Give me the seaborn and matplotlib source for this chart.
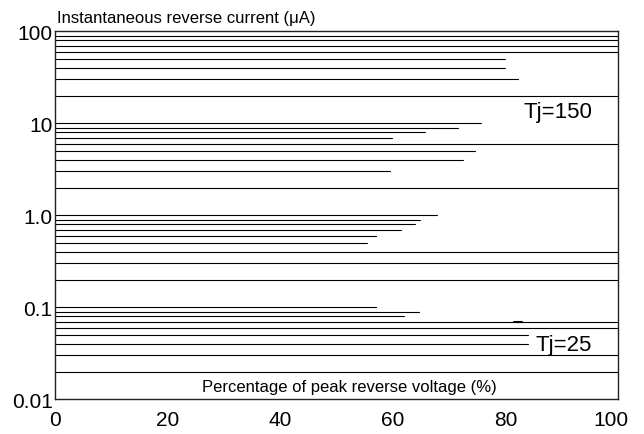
import pandas as pd
import matplotlib
matplotlib.use("Agg")
import matplotlib.pyplot as plt
import matplotlib.transforms as mtransforms
import seaborn as sns

# Horizontal reference lines (current level in uA) and how far each one reaches (% of peak voltage)
current_levels = [90, 80, 70, 60, 50, 40, 30, 20,
                  10, 9, 8, 7, 6, 5, 4, 3, 2,
                  1.0, 0.9, 0.8, 0.7, 0.6, 0.5, 0.4, 0.3, 0.2,
                  0.1, 0.09, 0.08, 0.07, 0.06, 0.05, 0.04, 0.03, 0.02]
line_reach = [100, 100, 100, 100, 80.0, 80.0, 82.2, 100,
              75.6, 71.5, 65.7, 59.8, 100, 74.6, 72.4, 59.5, 100,
              67.9, 64.8, 63.9, 61.4, 57.1, 55.4, 100, 100, 100,
              57.1, 64.7, 62.0, 100, 100, 84.1, 84.1, 100, 100]

x_ticks = [0, 20, 40, 60, 80, 100]
y_ticks = [100, 10, 1, 0.1, 0.01]
y_tick_labels = ["100", "10", "1.0", "0.1", "0.01"]

# Build a long table: each line is two points, start at 0 and end at its reach
rows = []
for i, (lvl, reach) in enumerate(zip(current_levels, line_reach)):
    rows.append({"line": i, "voltage": 0, "current": lvl})
    rows.append({"line": i, "voltage": reach, "current": lvl})
df = pd.DataFrame(rows)

sns.set_theme(style="white")
plt.rcParams["font.family"] = ["Liberation Sans", "DejaVu Sans"]

fig, ax = plt.subplots(figsize=(6.44, 4.35), dpi=100)
fig.subplots_adjust(left=55 / 644, right=618 / 644, top=1 - 32.3 / 435, bottom=1 - 400.3 / 435)

sns.lineplot(data=df, x="voltage", y="current", units="line", estimator=None,
             sort=False, color="black", linewidth=0.8, legend=False, ax=ax)

# small dark tick on the 0.07 line
sns.lineplot(x=[81.5, 83.0], y=[0.07, 0.07], color="black", linewidth=1.5, ax=ax)

ax.set_yscale("log")
ax.set_xlim(0, 100)
ax.set_ylim(0.01, 100)
ax.set_xticks(x_ticks)
ax.set_xticklabels([str(t) for t in x_ticks])
ax.set_yticks(y_ticks)
ax.set_yticklabels(y_tick_labels)
ax.minorticks_off()
ax.tick_params(axis="y", length=0, pad=1.7, labelsize=15, colors="black")
ax.tick_params(axis="x", length=0, pad=8, labelsize=15, colors="black")
ax.set_xlabel("")
ax.set_ylabel("")

# last x label sits a little to the left of the right border
last = ax.get_xticklabels()[-1]
last.set_transform(last.get_transform() + mtransforms.ScaledTranslation(-7 / 100, 0, fig.dpi_scale_trans))

for s in ax.spines.values():
    s.set_visible(True)
    s.set_color("#222222")
    s.set_linewidth(1.0)

ax.text(0.004, 1.026, "Instantaneous reverse current (\u03bcA)", transform=ax.transAxes,
        ha="left", va="baseline", fontsize=12, color="black")
ax.text(0.523, 0.0226, "Percentage of peak reverse voltage (%)", transform=ax.transAxes,
        ha="center", va="baseline", fontsize=12, color="black")
ax.text(83.2, 11.6, "Tj=150", ha="left", va="baseline", fontsize=16, color="black")
ax.text(85.4, 0.0346, "Tj=25", ha="left", va="baseline", fontsize=16, color="black")

fig.savefig("out.png", dpi=100)
